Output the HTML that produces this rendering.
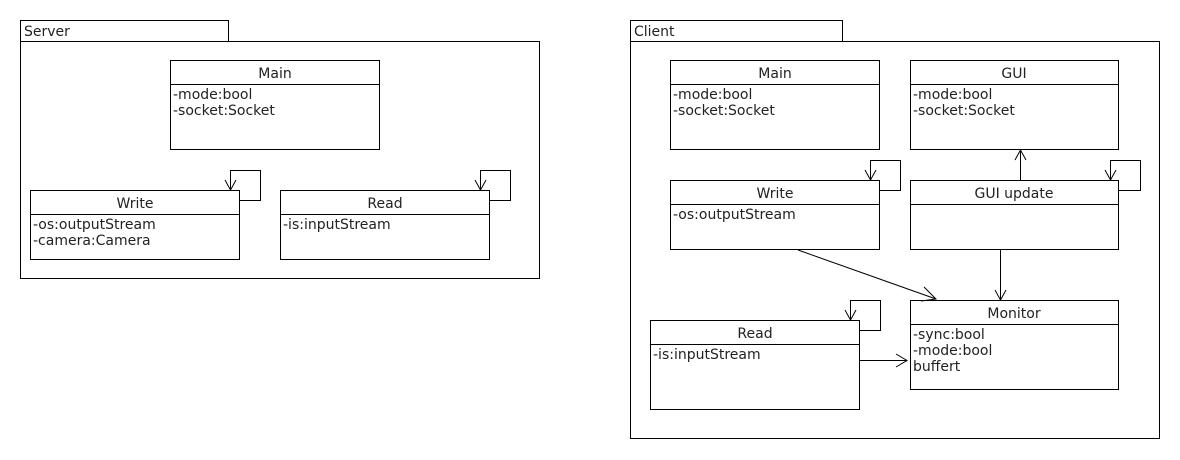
<!DOCTYPE html>
<html><head><meta charset="utf-8"><style>
html,body{margin:0;padding:0;background:#fff;}
svg{display:block;}
text{font-family:"DejaVu Sans","Liberation Sans",sans-serif;font-size:14px;fill:#222;}
</style></head><body>
<svg width="1180" height="460" viewBox="0 0 1180 460" xmlns="http://www.w3.org/2000/svg">
<g fill="none" stroke="#000" stroke-width="1">
<rect x="20.5" y="20.5" width="208" height="21"/>
<rect x="20.5" y="41.5" width="519" height="237"/>
<rect x="170.5" y="60.5" width="209" height="89"/><line x1="170" y1="84.5" x2="380" y2="84.5"/>
<rect x="30.5" y="190.5" width="209" height="69"/><line x1="30" y1="214.5" x2="240" y2="214.5"/>
<polyline points="230.5,190 230.5,170.5 260.5,170.5 260.5,200.5 240,200.5"/>
<polyline points="225,180 230.5,190 236,180"/>
<rect x="280.5" y="190.5" width="209" height="69"/><line x1="280" y1="214.5" x2="490" y2="214.5"/>
<polyline points="480.5,190 480.5,170.5 510.5,170.5 510.5,200.5 490,200.5"/>
<polyline points="475,180 480.5,190 486,180"/>
<rect x="630.5" y="20.5" width="212" height="21"/>
<rect x="630.5" y="41.5" width="529" height="397"/>
<rect x="670.5" y="60.5" width="209" height="89"/><line x1="670" y1="84.5" x2="880" y2="84.5"/>
<rect x="910.5" y="60.5" width="208" height="89"/><line x1="910" y1="84.5" x2="1119" y2="84.5"/>
<rect x="670.5" y="180.5" width="209" height="69"/><line x1="670" y1="204.5" x2="880" y2="204.5"/>
<polyline points="870.5,180 870.5,160.5 900.5,160.5 900.5,190.5 880,190.5"/>
<polyline points="865,170 870.5,180 876,170"/>
<rect x="910.5" y="180.5" width="208" height="69"/><line x1="910" y1="204.5" x2="1119" y2="204.5"/>
<polyline points="1110.5,180 1110.5,160.5 1140.5,160.5 1140.5,190.5 1119,190.5"/>
<polyline points="1105,170 1110.5,180 1116,170"/>
<line x1="1020.5" y1="180" x2="1020.5" y2="150"/>
<polyline points="1015,160 1020.5,150 1026,160"/>
<rect x="910.5" y="300.5" width="208" height="89"/><line x1="910" y1="324.5" x2="1119" y2="324.5"/>
<line x1="1000.5" y1="250" x2="1000.5" y2="300"/>
<polyline points="995,290 1000.5,300 1006,290"/>
<line x1="798" y1="250" x2="936" y2="299"/>
<polyline points="924,287 936,299 921,301"/>
<rect x="650.5" y="320.5" width="209" height="89"/><line x1="650" y1="344.5" x2="860" y2="344.5"/>
<polyline points="850.5,320 850.5,300.5 880.5,300.5 880.5,330.5 860,330.5"/>
<polyline points="845,310 850.5,320 856,310"/>
<line x1="860" y1="360.5" x2="907" y2="360.5"/>
<polyline points="896,354 907,360.5 896,367"/>
</g>
<text x="24" y="36">Server</text>
<text x="275" y="78" text-anchor="middle">Main</text>
<text x="173" y="99">-mode:bool</text>
<text x="173" y="115">-socket:Socket</text>
<text x="135" y="208" text-anchor="middle">Write</text>
<text x="33" y="229">-os:outputStream</text>
<text x="33" y="245">-camera:Camera</text>
<text x="385" y="208" text-anchor="middle">Read</text>
<text x="283" y="229">-is:inputStream</text>
<text x="634" y="36">Client</text>
<text x="775" y="78" text-anchor="middle">Main</text>
<text x="673" y="99">-mode:bool</text>
<text x="673" y="115">-socket:Socket</text>
<text x="1014" y="78" text-anchor="middle">GUI</text>
<text x="913" y="99">-mode:bool</text>
<text x="913" y="115">-socket:Socket</text>
<text x="775" y="198" text-anchor="middle">Write</text>
<text x="673" y="219">-os:outputStream</text>
<text x="1014" y="198" text-anchor="middle">GUI update</text>
<text x="1014" y="318" text-anchor="middle">Monitor</text>
<text x="913" y="339">-sync:bool</text>
<text x="913" y="355">-mode:bool</text>
<text x="913" y="371">buffert</text>
<text x="755" y="338" text-anchor="middle">Read</text>
<text x="653" y="359">-is:inputStream</text>
</svg>
</body></html>
